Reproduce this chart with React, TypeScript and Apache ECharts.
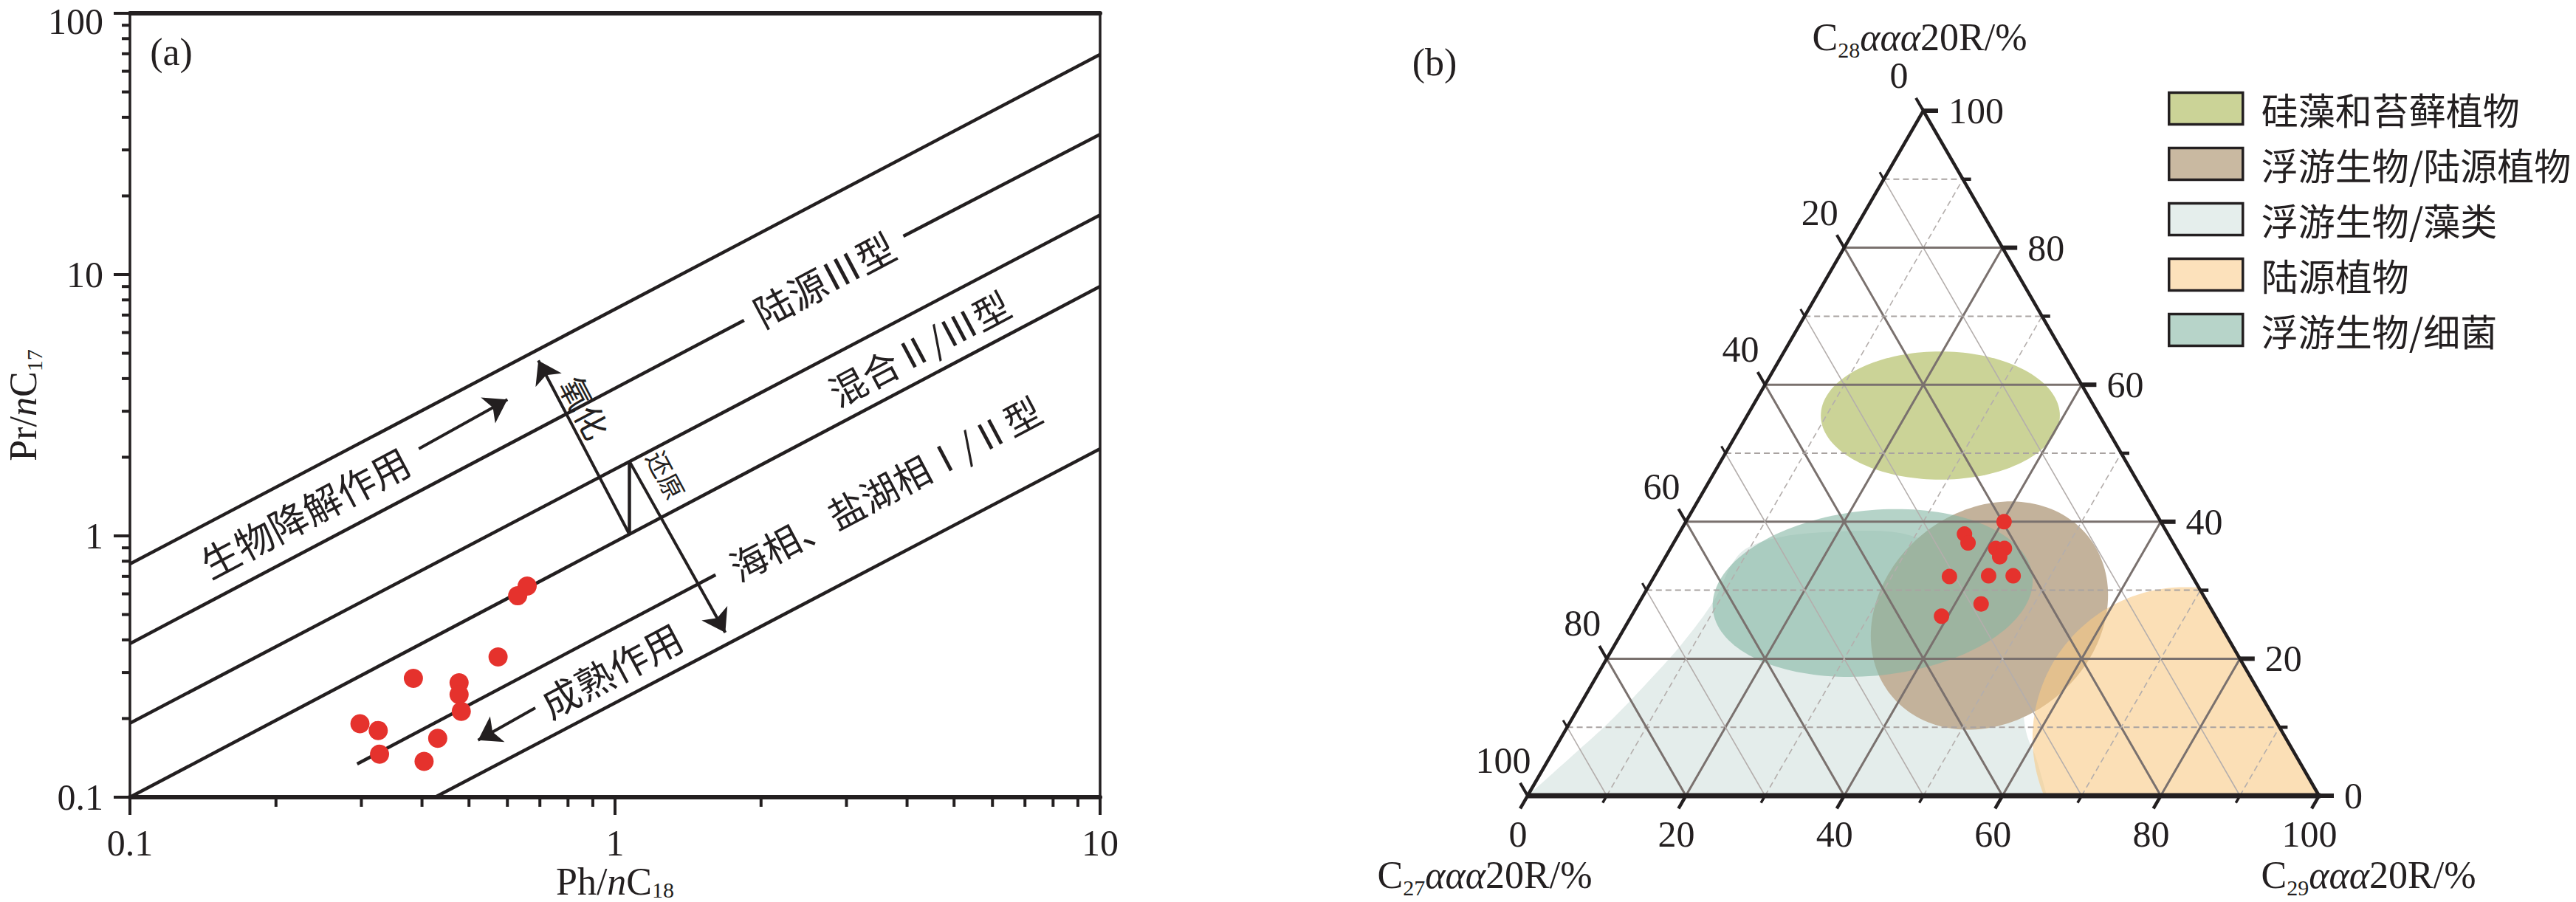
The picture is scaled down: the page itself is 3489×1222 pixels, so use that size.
import React, { useEffect, useRef } from 'react';
import * as echarts from 'echarts';

const INK = '#231f20';
const RED = '#e5322d';
const SERIF = '"Liberation Serif", "Times New Roman", serif';
const CJK = '"Noto Sans CJK SC", "Noto Sans", sans-serif';
const SQ3 = Math.sqrt(3);

// ================= Panel (a): Pr/nC17 vs Ph/nC18 (log-log) =================
const phNC18 = [0.659, 0.630, 0.574, 0.384, 0.477, 0.477, 0.482, 0.298, 0.325, 0.431, 0.327, 0.404];
const prNC17 = [0.643, 0.590, 0.344, 0.285, 0.274, 0.247, 0.213, 0.191, 0.180, 0.168, 0.146, 0.137];

const xMinorTicks = [0.2, 0.3, 0.4, 0.5, 0.6, 0.7, 0.8, 0.9, 2, 3, 4, 5, 6, 7, 8, 9];
const yMinorTicks = [0.2, 0.3, 0.4, 0.5, 0.6, 0.7, 0.8, 0.9, 2, 3, 4, 5, 6, 7, 8, 9, 20, 30, 40, 50, 60, 70, 80, 90];

// field boundary lines: start / end points [Ph/nC18, Pr/nC17]
const boundaryStart = [[0.1, 0.781], [0.1, 0.387], [3.93, 14.03], [0.1, 0.192], [0.1, 0.1], [0.294, 0.134], [0.4256, 0.1], [1.069, 1.94]];
const boundaryEnd = [[10, 69.6], [1.845, 6.68], [10, 34.4], [10, 16.9], [10, 9.01], [1.612, 0.71], [10, 2.154], [1.069, 1.02]];
// process arrows (oxidation, reduction, biodegradation, maturation)
const arrowStart = [[1.069, 1.02], [1.069, 1.94], [0.394, 2.154], [0.685, 0.2198]];
const arrowEnd = [[0.695, 4.69], [1.688, 0.4268], [0.600, 3.324], [0.522, 0.1654]];

const noteTexts = ['生物降解作用', '陆源Ⅲ型', '混合Ⅱ/Ⅲ型', '海相、盐湖相Ⅰ/Ⅱ型', '成熟作用', '氧化', '还原'];
const noteX = [0.229, 2.692, 4.227, 3.598, 0.981, 0.869, 1.277];
const noteY = [1.241, 9.68, 5.287, 1.536, 0.309, 3.11, 1.716];
const noteAngle = [28, 28, 28, 28, 28, -62, -62];
const noteSize = [52, 52, 50, 50, 52, 44, 34];

// ================= Panel (b): ternary C27 / C28 / C29 steranes =================
const sampleC27 = [19.8, 25.7, 25.9, 22.8, 21.7, 22.9, 30.7, 25.7, 22.6, 28.7, 34.6];
const sampleC28 = [40.0, 38.2, 36.9, 36.1, 36.1, 34.9, 32.0, 32.1, 32.1, 28.0, 26.2];
const sampleC29 = [40.2, 36.1, 37.2, 41.1, 42.2, 42.2, 37.3, 42.2, 45.3, 43.3, 39.2];

const ternaryTicks = [0, 10, 20, 30, 40, 50, 60, 70, 80, 90, 100];
const ternaryGridLevels = [10, 20, 30, 40, 50, 60, 70, 80, 90];

const regionNames = ['硅藻和苔藓植物', '浮游生物/陆源植物', '浮游生物/藻类', '陆源植物', '浮游生物/细菌'];
// ellipse-shaped fields: centre [C27, C28, C29], semi-axes (%), tilt (deg)
const diatomCentre = [20.1, 55.5, 24.4];
const diatomAxes = [15.1, 8.1, 0];
const planktonTerrCentre = [28.5, 26.3, 45.2];
const planktonTerrAxes = [16.0, 13.3, 39];
const terrestrialCentre = [12.7, 8.4, 78.9];
const terrestrialAxes = [19.3, 19.1, 0];
const bacteriaCentre = [41.6, 29.6, 28.8];
const bacteriaAxes = [20.3, 10.45, 6];
// plankton/algae field boundary (from C27 apex, round the top, back to the C27-C29 edge)
const algaeC27 = [100, 90.9, 84.1, 76.9, 69.5, 62.2, 57.4, 53.7, 47.9, 40.9, 35.5, 32.2, 28.1, 26.2, 28.5, 32.2, 33.0, 34.4];
const algaeC28 = [0, 6.2, 10.9, 16.3, 22.1, 28.5, 33.7, 36.4, 38.0, 38.6, 38.6, 37.8, 35.3, 28.9, 19.2, 9.8, 5.5, 0];
const algaeC29 = [0, 2.9, 5.0, 6.8, 8.4, 9.3, 8.9, 9.9, 14.1, 20.5, 25.9, 30.0, 36.6, 44.9, 52.3, 58.0, 61.5, 65.6];

function toCart(c27: number, c28: number, c29: number): number[] {
  const s = c27 + c28 + c29;
  const top = (c28 / s) * 100;
  const right = (c29 / s) * 100;
  return [right + top / 2, (top * SQ3) / 2];
}

function clipToTriangle(poly: number[][]): number[][] {
  const fns = [
    (p: number[]) => p[1],
    (p: number[]) => SQ3 * p[0] - p[1],
    (p: number[]) => SQ3 * (100 - p[0]) - p[1],
  ];
  let out = poly;
  for (const f of fns) {
    const input = out;
    out = [];
    for (let i = 0; i < input.length; i++) {
      const cur = input[i];
      const prev = input[(i + input.length - 1) % input.length];
      const fc = f(cur);
      const fp = f(prev);
      const cross = () => {
        const t = fp / (fp - fc);
        return [prev[0] + t * (cur[0] - prev[0]), prev[1] + t * (cur[1] - prev[1])];
      };
      if (fc >= 0) {
        if (fp < 0) out.push(cross());
        out.push(cur);
      } else if (fp >= 0) {
        out.push(cross());
      }
    }
  }
  return out;
}

function ellipsePoly(centre: number[], axes: number[]): number[][] {
  const c = toCart(centre[0], centre[1], centre[2]);
  const r = (axes[2] * Math.PI) / 180;
  const pts: number[][] = [];
  const n = 160;
  for (let i = 0; i < n; i++) {
    const t = (2 * Math.PI * i) / n;
    const ex = axes[0] * Math.cos(t);
    const ey = axes[1] * Math.sin(t);
    pts.push([c[0] + ex * Math.cos(r) - ey * Math.sin(r), c[1] + ex * Math.sin(r) + ey * Math.cos(r)]);
  }
  return clipToTriangle(pts);
}

function splinePoly(c27: number[], c28: number[], c29: number[]): number[][] {
  const pts = c27.map((v, i) => toCart(v, c28[i], c29[i]));
  const out: number[][] = [];
  const k = 14;
  for (let i = 0; i < pts.length - 1; i++) {
    const p0 = pts[Math.max(i - 1, 0)];
    const p1 = pts[i];
    const p2 = pts[i + 1];
    const p3 = pts[Math.min(i + 2, pts.length - 1)];
    for (let s = 0; s < k; s++) {
      const t = s / k;
      const t2 = t * t;
      const t3 = t2 * t;
      const f = (d: number) =>
        0.5 * (2 * p1[d] + (-p0[d] + p2[d]) * t + (2 * p0[d] - 5 * p1[d] + 4 * p2[d] - p3[d]) * t2 + (-p0[d] + 3 * p1[d] - 3 * p2[d] + p3[d]) * t3);
      out.push([f(0), f(1)]);
    }
  }
  out.push(pts[pts.length - 1]);
  return clipToTriangle(out);
}

function regionSeries(name: string, poly: number[][], fill: string, legendColor: string, z: number) {
  return {
    type: 'custom',
    name,
    xAxisIndex: 2,
    yAxisIndex: 2,
    z,
    silent: true,
    itemStyle: { color: legendColor },
    data: [[poly[0][0], poly[0][1]]],
    encode: { x: 0, y: 1 },
    renderItem: (params: any, api: any) => ({
      type: 'polygon',
      shape: { points: poly.map((p) => api.coord(p)) },
      style: { fill, stroke: null },
    }),
  };
}

const fmtLog = (v: number) => (v < 1 ? String(Number(v.toFixed(1))) : String(Math.round(v)));
const fmtLogY = (v: number) => (v >= 100 ? '{top|' + fmtLog(v) + '}' : fmtLog(v));

const nameRichX = {
  a: { fontFamily: SERIF, fontSize: 52, color: INK, lineHeight: 52 },
  i: { fontFamily: SERIF, fontSize: 52, fontStyle: 'italic', color: INK, lineHeight: 52 },
  s: { fontFamily: SERIF, fontSize: 30, color: INK, lineHeight: 30, verticalAlign: 'bottom' },
};

const nameRichY = {
  a: { fontFamily: SERIF, fontSize: 52, color: INK, lineHeight: 60 },
  i: { fontFamily: SERIF, fontSize: 52, fontStyle: 'italic', color: INK, lineHeight: 60 },
  s: { fontFamily: SERIF, fontSize: 30, color: INK, lineHeight: 38, verticalAlign: 'bottom' },
};

const titleRich = {
  m: { font: `52px ${SERIF}`, fill: INK, lineHeight: 64 },
  g: { font: `italic 52px ${SERIF}`, fill: INK, lineHeight: 64 },
  s: { font: `30px ${SERIF}`, fill: INK, lineHeight: 34, verticalAlign: 'bottom' },
};

function buildOption() {
  const algaePoly = splinePoly(algaeC27, algaeC28, algaeC29);
  return {
    animation: false,
    backgroundColor: '#ffffff',
    textStyle: { fontFamily: SERIF, color: INK },
    grid: [
      { left: 176, top: 18, width: 1314, height: 1062, show: false, containLabel: false, outerBoundsMode: 'none' },
      { left: 2069, top: 150, width: 1072, height: 928, show: false, containLabel: false, outerBoundsMode: 'none' },
    ],
    legend: {
      show: true,
      data: regionNames,
      orient: 'vertical',
      left: 2936,
      top: 122,
      padding: 0,
      itemWidth: 100,
      itemHeight: 43,
      itemGap: 25,
      icon: 'rect',
      selectedMode: false,
      itemStyle: { borderColor: INK, borderWidth: 3.5 },
      textStyle: { fontFamily: CJK, fontSize: 50, color: INK, lineHeight: 43, padding: [0, 0, 0, 20] },
    },
    graphic: [
      { type: 'text', x: 232, y: 70, style: { text: '(a)', font: `52px ${SERIF}`, fill: INK, textAlign: 'center', textVerticalAlign: 'middle', align: 'center', verticalAlign: 'middle' } },
      { type: 'text', x: 1943, y: 84, style: { text: '(b)', font: `52px ${SERIF}`, fill: INK, textAlign: 'center', textVerticalAlign: 'middle', align: 'center', verticalAlign: 'middle' } },
    ],
    xAxis: [
      {
        gridIndex: 0, type: 'log', logBase: 10, min: 0.1, max: 10, position: 'bottom',
        axisLine: { show: true, onZero: false, lineStyle: { color: INK, width: 6 } },
        axisTick: { show: true, inside: false, length: 24, lineStyle: { color: INK, width: 4 } },
        axisLabel: { show: true, margin: 42, lineHeight: 40, color: INK, fontFamily: SERIF, fontSize: 50, formatter: fmtLog, showMinLabel: true, showMaxLabel: true },
        splitLine: { show: false },
        minorTick: { show: false },
        name: '{a|Ph/}{i|n}{a|C}{s|18}',
        nameLocation: 'middle',
        nameGap: 88,
        nameMoveOverlap: false,
        nameTextStyle: { rich: nameRichX },
      },
      {
        gridIndex: 0, type: 'log', logBase: 10, min: 0.1, max: 10, position: 'top',
        axisLine: { show: true, onZero: false, lineStyle: { color: INK, width: 6 } },
        axisTick: { show: false }, axisLabel: { show: false }, splitLine: { show: false },
      },
      { gridIndex: 1, type: 'value', min: 0, max: 100, show: false, splitLine: { show: false } },
    ],
    yAxis: [
      {
        gridIndex: 0, type: 'log', logBase: 10, min: 0.1, max: 100, position: 'left',
        axisLine: { show: true, onZero: false, lineStyle: { color: INK, width: 3.5 } },
        axisTick: { show: true, inside: false, length: 22, lineStyle: { color: INK, width: 4 } },
        axisLabel: {
          show: true, margin: 36, color: INK, fontFamily: SERIF, fontSize: 50, formatter: fmtLogY, showMinLabel: true, showMaxLabel: true,
          rich: { top: { fontFamily: SERIF, fontSize: 50, color: INK, padding: [22, 0, 0, 0] } },
        },
        splitLine: { show: false },
        name: '{a|Pr/}{i|n}{a|C}{s|17}',
        nameLocation: 'middle',
        nameRotate: 90,
        nameGap: 106,
        nameTextStyle: { rich: nameRichY },
      },
      {
        gridIndex: 0, type: 'log', logBase: 10, min: 0.1, max: 100, position: 'right',
        axisLine: { show: true, onZero: false, lineStyle: { color: INK, width: 3.5 } },
        axisTick: { show: false }, axisLabel: { show: false }, splitLine: { show: false },
      },
      { gridIndex: 1, type: 'value', min: 0, max: 50 * SQ3, show: false, splitLine: { show: false } },
    ],
    series: [
      // ---------- panel (a) ----------
      {
        type: 'lines', coordinateSystem: 'cartesian2d', xAxisIndex: 0, yAxisIndex: 0, silent: true, z: 3,
        symbol: 'none',
        lineStyle: { color: INK, width: 4.5, opacity: 1, curveness: 0 },
        data: boundaryStart.map((s, i) => ({ coords: [s, boundaryEnd[i]] })),
      },
      {
        type: 'lines', coordinateSystem: 'cartesian2d', xAxisIndex: 0, yAxisIndex: 0, silent: true, z: 3,
        symbol: ['none', 'arrow'], symbolSize: [20, 30],
        lineStyle: { color: INK, width: 4, opacity: 1, curveness: 0 },
        data: arrowStart.map((s, i) => ({ coords: [s, arrowEnd[i]] })),
      },
      {
        type: 'custom', xAxisIndex: 0, yAxisIndex: 0, silent: true, z: 4, clip: false,
        data: [...xMinorTicks.map((v) => [v, 0.1, 0]), ...yMinorTicks.map((v) => [0.1, v, 1])],
        encode: { x: 0, y: 1 },
        renderItem: (params: any, api: any) => {
          const p = api.coord([api.value(0), api.value(1)]);
          const vertical = api.value(2) === 0;
          return {
            type: 'line',
            shape: vertical ? { x1: p[0], y1: p[1], x2: p[0], y2: p[1] + 13 } : { x1: p[0] - 11, y1: p[1], x2: p[0], y2: p[1] },
            style: { stroke: INK, lineWidth: 4 },
          };
        },
      },
      {
        type: 'custom', xAxisIndex: 0, yAxisIndex: 0, silent: true, z: 6,
        data: noteX.map((x, i) => [x, noteY[i]]),
        encode: { x: 0, y: 1 },
        renderItem: (params: any, api: any) => {
          const i = params.dataIndex;
          const p = api.coord([api.value(0), api.value(1)]);
          return {
            type: 'text', x: p[0], y: p[1], rotation: (noteAngle[i] * Math.PI) / 180,
            style: { text: noteTexts[i], font: `${noteSize[i]}px ${CJK}`, fill: INK, align: 'center', verticalAlign: 'middle', textAlign: 'center', textVerticalAlign: 'middle' },
          };
        },
      },
      {
        type: 'scatter', xAxisIndex: 0, yAxisIndex: 0, z: 8, symbol: 'circle', symbolSize: 26,
        itemStyle: { color: RED, opacity: 1 },
        data: phNC18.map((x, i) => [x, prNC17[i]]),
      },
      // ---------- panel (b) ----------
      regionSeries(regionNames[2], algaePoly, '#e4edeb', '#e5eeec', 1),
      regionSeries(regionNames[1], ellipsePoly(planktonTerrCentre, planktonTerrAxes), '#c3b29b', '#c9b9a1', 2),
      regionSeries(regionNames[4], ellipsePoly(bacteriaCentre, bacteriaAxes), 'rgba(132,182,163,0.6)', '#b7d4c9', 3),
      regionSeries(regionNames[3], ellipsePoly(terrestrialCentre, terrestrialAxes), 'rgba(248,202,133,0.6)', '#fce1bb', 4),
      regionSeries(regionNames[0], ellipsePoly(diatomCentre, diatomAxes), '#cbd397', '#cbd397', 5),
      {
        type: 'custom', xAxisIndex: 2, yAxisIndex: 2, silent: true, z: 6,
        data: [[50, 40]],
        encode: { x: 0, y: 1 },
        renderItem: (params: any, api: any) => {
          const C = (a: number, b: number, c: number) => api.coord(toCart(a, b, c));
          const kids: any[] = [];
          const seg = (p: number[], q: number[], style: any) =>
            kids.push({ type: 'line', shape: { x1: p[0], y1: p[1], x2: q[0], y2: q[1] }, style });
          const majorStyle = { stroke: '#7a716e', lineWidth: 3 };
          ternaryGridLevels.forEach((v) => {
            const major = v % 20 === 0;
            const w = 100 - v;
            seg(C(w, v, 0), C(0, v, w), major ? majorStyle : { stroke: '#a9a3a1', lineWidth: 2, lineDash: [8, 5] });
            seg(C(v, w, 0), C(v, 0, w), major ? majorStyle : { stroke: '#b4aeac', lineWidth: 1.6 });
            seg(C(w, 0, v), C(0, w, v), major ? majorStyle : { stroke: '#b4aeac', lineWidth: 1.6, lineDash: [8, 5] });
          });
          return { type: 'group', children: kids };
        },
      },
      {
        type: 'custom', xAxisIndex: 2, yAxisIndex: 2, silent: true, z: 7, clip: false,
        data: [[50, 40]],
        encode: { x: 0, y: 1 },
        renderItem: (params: any, api: any) => {
          const C = (a: number, b: number, c: number) => api.coord(toCart(a, b, c));
          const kids: any[] = [];
          const seg = (p: number[], q: number[], lw: number) =>
            kids.push({ type: 'line', shape: { x1: p[0], y1: p[1], x2: q[0], y2: q[1] }, style: { stroke: INK, lineWidth: lw } });
          const label = (txt: string, x: number, y: number, align: string) =>
            kids.push({ type: 'text', x, y, style: { text: txt, font: `50px ${SERIF}`, fill: INK, align, verticalAlign: 'middle', textAlign: align, textVerticalAlign: 'middle' } });
          ternaryTicks.forEach((v) => {
            const major = v % 20 === 0;
            const len = major ? 20 : 11;
            const pr = C(0, v, 100 - v);
            seg(pr, [pr[0] + len, pr[1]], major ? 6 : 4.5);
            const pl = C(v, 100 - v, 0);
            seg(pl, [pl[0] - len * 0.5, pl[1] - len * 0.866], major ? 4 : 3);
            const pb = C(100 - v, 0, v);
            seg(pb, [pb[0] - len * 0.5, pb[1] + len * 0.866], major ? 4.5 : 3.5);
            if (major) {
              label(String(v), pr[0] + 34, pr[1], 'left');
              label(String(v), pl[0] - 33, pl[1] - 48, 'center');
              label(String(v), pb[0] - 13, pb[1] + 52, 'center');
            }
          });
          const A = C(0, 100, 0);
          const L = C(100, 0, 0);
          const R = C(0, 0, 100);
          kids.push({ type: 'polyline', shape: { points: [L, A, R] }, style: { stroke: INK, lineWidth: 4.5, fill: null, lineJoin: 'miter' } });
          seg([L[0] - 2, L[1]], [R[0] + 2, R[1]], 7);
          const title = (txt: string, x: number, y: number) =>
            kids.push({ type: 'text', x, y, style: { text: txt, rich: titleRich, align: 'center', verticalAlign: 'middle', textAlign: 'center', textVerticalAlign: 'middle' } });
          title('{m|C}{s|28}{g|ααα}{m|20R/%}', A[0] - 5, A[1] - 100);
          title('{m|C}{s|27}{g|ααα}{m|20R/%}', L[0] - 58, L[1] + 107);
          title('{m|C}{s|29}{g|ααα}{m|20R/%}', R[0] + 67, R[1] + 107);
          return { type: 'group', children: kids };
        },
      },
      {
        type: 'scatter', xAxisIndex: 2, yAxisIndex: 2, z: 9, symbol: 'circle', symbolSize: 21,
        itemStyle: { color: RED, opacity: 1 },
        data: sampleC27.map((v, i) => toCart(v, sampleC28[i], sampleC29[i])),
      },
    ],
  };
}

export default function App() {
  const ref = useRef<HTMLDivElement>(null);
  useEffect(() => {
    if (!ref.current) return;
    const chart = echarts.init(ref.current, null, { renderer: 'svg' });
    chart.setOption(buildOption() as any);
    return () => chart.dispose();
  }, []);
  return (
    <div
      ref={ref}
      style={{ position: 'fixed', left: 0, top: 0, width: 3489, height: 1222, background: '#ffffff' }}
    />
  );
}
